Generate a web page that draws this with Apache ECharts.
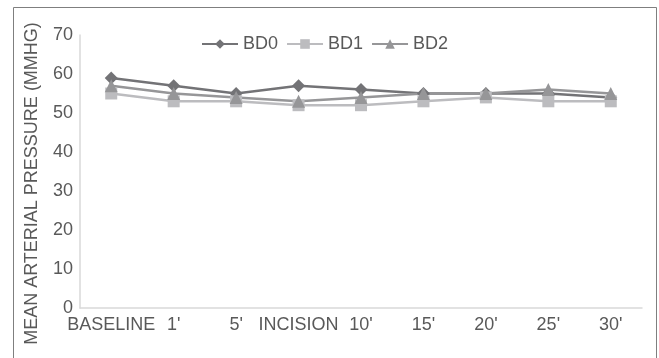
<!DOCTYPE html>
<html><head><meta charset="utf-8">
<script src="https://cdn.jsdelivr.net/npm/echarts@6/dist/echarts.min.js"></script>
<style>html,body{margin:0;padding:0;background:#fff}#c{width:659px;height:358px}</style>
</head><body><div id="c"></div>
<script>
const categories = ["BASELINE", "1'", "5'", "INCISION", "10'", "15'", "20'", "25'", "30'"];
const bd0 = [59, 57, 55, 57, 56, 55, 55, 55, 54];
const bd1 = [55, 53, 53, 52, 52, 53, 54, 53, 53];
const bd2 = [57, 55, 54, 53, 54, 55, 55, 56, 55];
const yTitle = "MEAN ARTERIAL PRESSURE (MMHG)";

const chart = echarts.init(document.getElementById('c'));
const font = 'Liberation Sans, Arial, sans-serif';
const mk = (name, data, color, symbol, size) => ({
  name, type: 'line', data, symbol, symbolSize: size,
  itemStyle: {color}, lineStyle: {color, width: 2.5}, z: 3
});
chart.setOption({
  animation: false,
  graphic: [{type: 'rect', shape: {x: 13.5, y: 7.5, width: 643, height: 360},
    style: {fill: 'none', stroke: '#7f7f7f', lineWidth: 1}}],
  legend: {top: 30, left: 196, itemWidth: 36, itemHeight: 12, itemGap: 8,
    textStyle: {fontFamily: font, fontSize: 18, color: '#595959'},
    data: ['BD0', 'BD1', 'BD2']},
  grid: {left: 80, right: 17, top: 35, bottom: 50, containLabel: false},
  xAxis: {type: 'category', data: categories, boundaryGap: true,
    axisLine: {lineStyle: {color: '#d9d9d9', width: 1.5}}, axisTick: {show: false},
    axisLabel: {fontFamily: font, fontSize: 18, color: '#595959', margin: 8, interval: 0}},
  yAxis: {type: 'value', min: 0, max: 70, interval: 10,
    name: yTitle, nameLocation: 'middle', nameGap: 39, nameRotate: 90,
    nameTextStyle: {fontFamily: font, fontSize: 18, color: '#595959', padding: [0, 24, 0, 0]},
    axisLine: {show: true, lineStyle: {color: '#d9d9d9', width: 1.5}}, axisTick: {show: false},
    splitLine: {show: false},
    axisLabel: {fontFamily: font, fontSize: 18, color: '#595959', margin: 7}},
  series: [
    mk('BD0', bd0, '#737376', 'diamond', 13),
    mk('BD1', bd1, '#bcbcbf', 'rect', 12),
    mk('BD2', bd2, '#969698', 'triangle', 13)
  ]
});
</script></body></html>
